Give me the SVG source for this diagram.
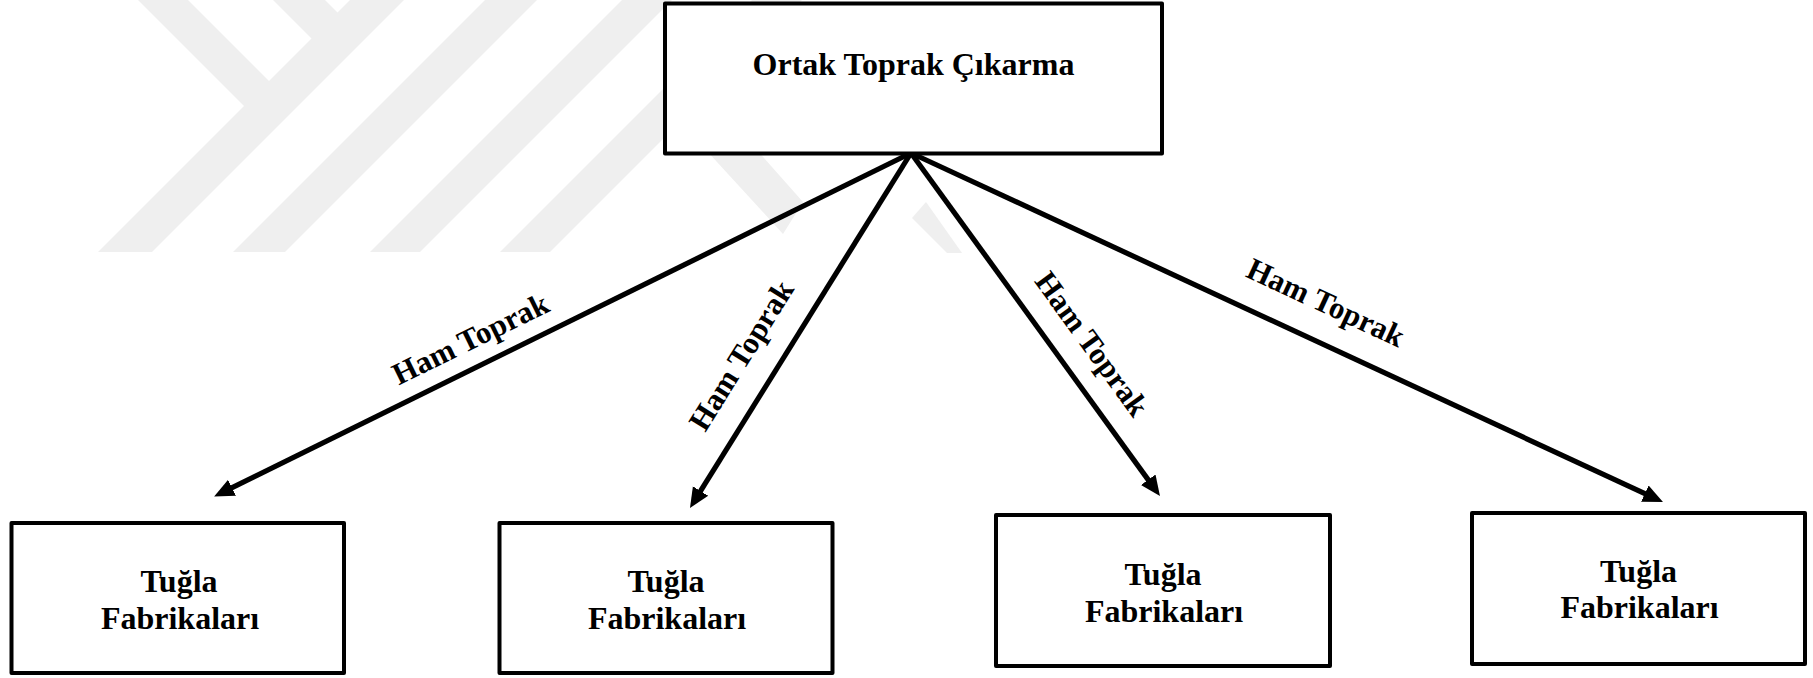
<svg xmlns="http://www.w3.org/2000/svg" width="1813" height="678" viewBox="0 0 1813 678">
  <style>
    .box { fill: #ffffff; stroke: #000000; stroke-width: 4; stroke-linejoin: round; }
    .txt { font-family: "Liberation Serif", "Times New Roman", serif; font-weight: bold; font-size: 32px; fill: #000000; text-anchor: middle; }
    .lbl { font-family: "Liberation Serif", "Times New Roman", serif; font-weight: bold; font-size: 31px; fill: #000000; text-anchor: middle; }
    .wire { stroke: #000000; stroke-width: 5.2; fill: none; marker-end: url(#head); }
    .mark { fill: #efefef; }
  </style>
  <defs>
    <marker id="head" markerUnits="userSpaceOnUse" markerWidth="22" markerHeight="20" viewBox="0 -10 22 20" refX="9" refY="0" orient="auto">
      <path d="M0,-9 L20,0 L0,9 Z" fill="#000000"/>
    </marker>
  </defs>

  <rect width="1813" height="678" fill="#ffffff"/>

  <!-- faint background emblem -->
  <g id="emblem">
    <polygon class="mark" points="98,252 152,252 404,0 350,0"/>
    <polygon class="mark" points="138,0 188,0 285,97 260,122"/>
    <polygon class="mark" points="273,0 325,0 351,26 325,52"/>
    <polygon class="mark" points="233,252 285,252 537,0 485,0"/>
    <polygon class="mark" points="370,252 420,252 672,0 622,0"/>
    <polygon class="mark" points="500,252 550,252 802,0 752,0"/>
    <polygon class="mark" points="706,150 757,150 803,202 783,234"/>
    <polygon class="mark" points="912,218 926,202 962,253 947,253"/>
  </g>

  <!-- flows from the pit to each factory -->
  <g id="connectors">
    <line class="wire" x1="911" y1="153" x2="224" y2="491.7"/>
    <line class="wire" x1="911" y1="153" x2="695.8" y2="498.7"/>
    <line class="wire" x1="911" y1="153" x2="1153.5" y2="487.1"/>
    <line class="wire" x1="911" y1="153" x2="1653" y2="497.4"/>
    <text class="lbl" transform="translate(475,348) rotate(-26.2)">Ham Toprak</text>
    <text class="lbl" transform="translate(750,361) rotate(-58.1)">Ham Toprak</text>
    <text class="lbl" transform="translate(1083.5,350) rotate(54)">Ham Toprak</text>
    <text class="lbl" transform="translate(1321.4,312) rotate(24.9)">Ham Toprak</text>
  </g>

  <g id="source">
    <rect class="box" x="665" y="3.5" width="497" height="150"/>
    <text class="txt" x="913.5" y="75">Ortak Toprak Çıkarma</text>
  </g>

  <g id="factory1">
    <rect class="box" x="11.5" y="523" width="332.5" height="150"/>
    <text class="txt" x="179" y="592">Tuğla</text>
    <text class="txt" x="180" y="629">Fabrikaları</text>
  </g>

  <g id="factory2">
    <rect class="box" x="499.5" y="523" width="333" height="150"/>
    <text class="txt" x="666" y="592">Tuğla</text>
    <text class="txt" x="667" y="629">Fabrikaları</text>
  </g>

  <g id="factory3">
    <rect class="box" x="996" y="515" width="334" height="151"/>
    <text class="txt" x="1163" y="585">Tuğla</text>
    <text class="txt" x="1164" y="622">Fabrikaları</text>
  </g>

  <g id="factory4">
    <rect class="box" x="1472" y="513" width="333" height="151"/>
    <text class="txt" x="1638.5" y="582">Tuğla</text>
    <text class="txt" x="1639.5" y="618">Fabrikaları</text>
  </g>
</svg>
